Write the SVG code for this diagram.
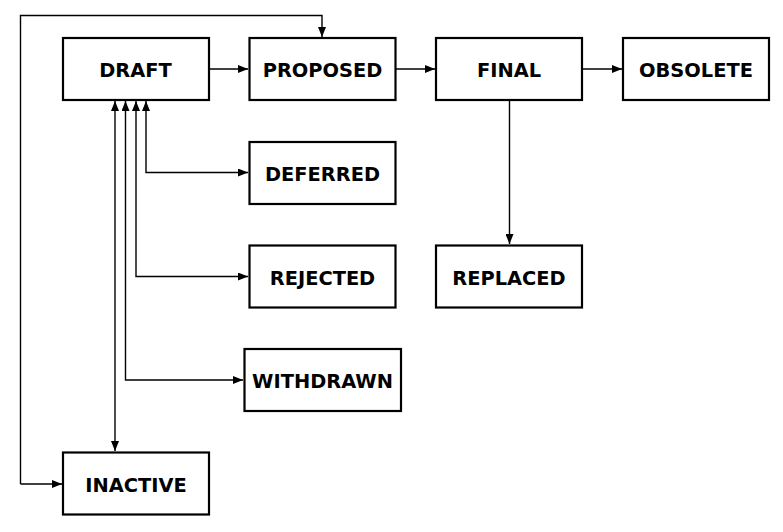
<svg xmlns="http://www.w3.org/2000/svg" width="783" height="532" viewBox="0 0 783 532">
<style>
.box{fill:#fff;stroke:#000;stroke-width:2.2}
.lbl{font-family:"DejaVu Sans",sans-serif;font-weight:bold;font-size:19.4px;text-anchor:middle;fill:#000}
.c{fill:none;stroke:#000;stroke-width:1.4}
</style>
<defs>
<marker id="ah" viewBox="0 0 10 8" refX="10" refY="4" markerWidth="10" markerHeight="8" markerUnits="userSpaceOnUse" orient="auto-start-reverse">
<path d="M0,0 L10,4 L0,8 z" fill="#000"/>
</marker>
</defs>
<rect width="783" height="532" fill="#fff"/>
<g id="connectors">
<path class="c" d="M20.5,484 V15.5 H322 V37" marker-end="url(#ah)"/>
<path class="c" d="M20.5,484 H62" marker-end="url(#ah)"/>
<path class="c" d="M209,69 H248" marker-end="url(#ah)"/>
<path class="c" d="M395,69 H435" marker-end="url(#ah)"/>
<path class="c" d="M582,69 H622" marker-end="url(#ah)"/>
<path class="c" d="M509.5,100 V244" marker-end="url(#ah)"/>
<path class="c" d="M146,101 V172.5 H248" marker-start="url(#ah)" marker-end="url(#ah)"/>
<path class="c" d="M136,101 V276.5 H248" marker-start="url(#ah)" marker-end="url(#ah)"/>
<path class="c" d="M125.5,101 V380 H243" marker-start="url(#ah)" marker-end="url(#ah)"/>
<path class="c" d="M115,101 V451" marker-start="url(#ah)" marker-end="url(#ah)"/>
</g>
<g id="draft"><rect class="box" x="63" y="38" width="146" height="62"/><text class="lbl" x="135.5" y="77">DRAFT</text></g>
<g id="proposed"><rect class="box" x="249.5" y="38" width="146" height="62"/><text class="lbl" x="322.5" y="77">PROPOSED</text></g>
<g id="final"><rect class="box" x="436" y="38" width="146" height="62"/><text class="lbl" x="509" y="77">FINAL</text></g>
<g id="obsolete"><rect class="box" x="623" y="38" width="146" height="62"/><text class="lbl" x="696" y="77">OBSOLETE</text></g>
<g id="deferred"><rect class="box" x="249.5" y="142" width="146" height="62"/><text class="lbl" x="322.5" y="181">DEFERRED</text></g>
<g id="rejected"><rect class="box" x="249.5" y="245.5" width="146" height="62"/><text class="lbl" x="322.5" y="284.5">REJECTED</text></g>
<g id="replaced"><rect class="box" x="436" y="245.5" width="146" height="62"/><text class="lbl" x="509" y="284.5">REPLACED</text></g>
<g id="withdrawn"><rect class="box" x="244.5" y="349" width="156.5" height="62"/><text class="lbl" x="322.5" y="388">WITHDRAWN</text></g>
<g id="inactive"><rect class="box" x="63" y="452.5" width="146" height="62"/><text class="lbl" x="136" y="491.5">INACTIVE</text></g>
</svg>
